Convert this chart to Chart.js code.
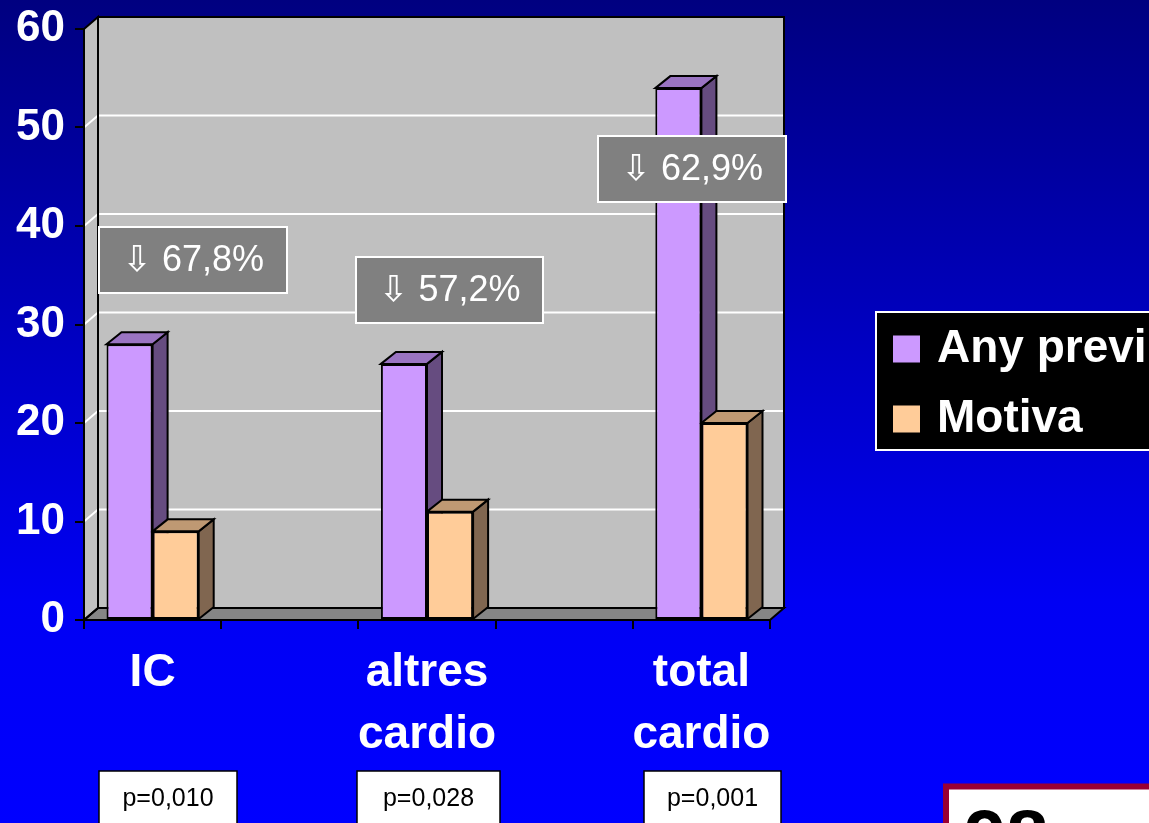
<!DOCTYPE html>
<html>
<head>
<meta charset="utf-8">
<script src="https://cdn.jsdelivr.net/npm/chart.js@4.4.1/dist/chart.umd.min.js"></script>
<style>
  html, body { margin: 0; padding: 0; overflow: hidden; background: #0000ff; }
  canvas { display: block; }
</style>
</head>
<body>
<canvas id="chart" width="1149" height="823"></canvas>
<script>
// data
const categories = ["IC", "", ["altres", "cardio"], "", ["total", "cardio"]];
const seriesNames = ["Any previ", "Motiva"];
const anyPrevious = [28, null, 26, null, 54];
const motiva = [9, null, 11, null, 20];
const yTicks = [0, 10, 20, 30, 40, 50, 60];
const reductions = ["\u21E9 67,8%", "\u21E9 57,2%", "\u21E9 62,9%"];
const pValues = ["p=0,010", "p=0,028", "p=0,001"];

// layout / look
const FONT = "Arial, 'Liberation Sans', 'DejaVu Sans', sans-serif";
const WALL = { dx: 14, dy: -12 };
const BAR = { dx: 15, dy: -12 };
const faces = [
  { front: "#cc99ff", top: "#9a74c2", side: "#664c80" },
  { front: "#ffcc99", top: "#bf9973", side: "#806650" },
];
const reductionBoxes = [
  { x: 99, y: 227, w: 188, h: 66 },
  { x: 356, y: 257, w: 187, h: 66 },
  { x: 598, y: 136, w: 188, h: 66 },
];
const pBoxes = [
  { x: 99, y: 771, w: 138 },
  { x: 357, y: 771, w: 143 },
  { x: 644, y: 771, w: 137 },
];

function poly(ctx, pts, fill, stroke, lw) {
  ctx.beginPath();
  ctx.moveTo(pts[0][0], pts[0][1]);
  for (let i = 1; i < pts.length; i++) ctx.lineTo(pts[i][0], pts[i][1]);
  ctx.closePath();
  if (fill) { ctx.fillStyle = fill; ctx.fill(); }
  if (stroke) { ctx.strokeStyle = stroke; ctx.lineWidth = lw || 2; ctx.lineJoin = "miter"; ctx.stroke(); }
}

const scene3d = {
  id: "scene3d",
  beforeDraw(chart) {
    const { ctx, width, height } = chart;
    const a = chart.chartArea;
    const y = chart.scales.y;
    const { dx, dy } = WALL;

    ctx.save();
    const g = ctx.createLinearGradient(0, 0, 0, height);
    g.addColorStop(0, "#000080");
    g.addColorStop(0.73, "#0000f4");
    g.addColorStop(1, "#0000ff");
    ctx.fillStyle = g;
    ctx.fillRect(0, 0, width, height);

    const back = [[a.left + dx, a.top + dy], [a.right + dx, a.top + dy], [a.right + dx, a.bottom + dy], [a.left + dx, a.bottom + dy]];
    const side = [[a.left, a.top], [a.left + dx, a.top + dy], [a.left + dx, a.bottom + dy], [a.left, a.bottom]];
    const floor = [[a.left, a.bottom], [a.left + dx, a.bottom + dy], [a.right + dx, a.bottom + dy], [a.right, a.bottom]];
    poly(ctx, back, "#c0c0c0");
    poly(ctx, side, "#c0c0c0");
    poly(ctx, floor, "#858585");

    // gridlines on walls
    ctx.strokeStyle = "#ffffff";
    ctx.lineWidth = 2;
    y.ticks.forEach(t => {
      if (t.value <= y.min || t.value >= y.max) return;
      const py = y.getPixelForValue(t.value);
      ctx.beginPath();
      ctx.moveTo(a.left, py);
      ctx.lineTo(a.left + dx, py + dy);
      ctx.lineTo(a.right + dx, py + dy);
      ctx.stroke();
    });

    poly(ctx, back, null, "#000", 2);
    poly(ctx, side, null, "#000", 2);
    poly(ctx, floor, null, "#000", 2);
    ctx.restore();
  },
  beforeDatasetsDraw(chart) {
    const { ctx } = chart;
    const { dx, dy } = BAR;
    ctx.save();
    chart.data.datasets.forEach((ds, i) => {
      const meta = chart.getDatasetMeta(i);
      meta.data.forEach((el, j) => {
        if (ds.data[j] == null) return;
        const l = el.x - el.width / 2, r = el.x + el.width / 2;
        poly(ctx, [[r, el.y], [r + dx, el.y + dy], [r + dx, el.base + dy], [r, el.base]], faces[i].side, "#000", 2);
        poly(ctx, [[l, el.y], [l + dx, el.y + dy], [r + dx, el.y + dy], [r, el.y]], faces[i].top, "#000", 2);
      });
    });
    ctx.restore();
  },
  afterDraw(chart) {
    const { ctx } = chart;
    ctx.save();

    // reduction call-outs
    ctx.textAlign = "center";
    ctx.textBaseline = "middle";
    reductionBoxes.forEach((b, i) => {
      ctx.fillStyle = "#808080";
      ctx.fillRect(b.x, b.y, b.w, b.h);
      ctx.strokeStyle = "#ffffff";
      ctx.lineWidth = 2;
      ctx.strokeRect(b.x, b.y, b.w, b.h);
      ctx.fillStyle = "#ffffff";
      ctx.font = `36px ${FONT}`;
      ctx.fillText(reductions[i], b.x + b.w / 2, b.y + b.h / 2 + 1);
    });

    // p values
    ctx.font = `25px ${FONT}`;
    pBoxes.forEach((b, i) => {
      ctx.fillStyle = "#ffffff";
      ctx.fillRect(b.x, b.y, b.w, 70);
      ctx.strokeStyle = "#000";
      ctx.lineWidth = 1.5;
      ctx.strokeRect(b.x, b.y, b.w, 70);
      ctx.fillStyle = "#000";
      ctx.fillText(pValues[i], b.x + b.w / 2, 799);
    });

    // cropped box bottom right
    ctx.fillStyle = "#ffffff";
    ctx.fillRect(946, 786.5, 260, 80);
    ctx.strokeStyle = "#990033";
    ctx.lineWidth = 6;
    ctx.strokeRect(946, 786.5, 260, 80);
    ctx.fillStyle = "#000";
    ctx.font = `bold 76px ${FONT}`;
    ctx.textAlign = "left";
    ctx.textBaseline = "alphabetic";
    ctx.fillText("98", 964, 863);

    // legend
    ctx.fillStyle = "#000";
    ctx.fillRect(875, 311, 300, 140);
    ctx.strokeStyle = "#ffffff";
    ctx.lineWidth = 2;
    ctx.strokeRect(876, 312, 300, 138);
    ctx.font = `bold 46px ${FONT}`;
    ctx.textBaseline = "middle";
    chart.data.datasets.forEach((ds, i) => {
      const cy = 349 + i * 70;
      ctx.fillStyle = ds.backgroundColor;
      ctx.fillRect(893, cy - 13.5, 27, 27);
      ctx.fillStyle = "#ffffff";
      ctx.fillText(ds.label, 937, cy);
    });
    ctx.restore();
  },
};

new Chart(document.getElementById("chart"), {
  type: "bar",
  data: {
    labels: categories,
    datasets: [
      { label: seriesNames[0], data: anyPrevious, backgroundColor: faces[0].front },
      { label: seriesNames[1], data: motiva, backgroundColor: faces[1].front },
    ],
  },
  options: {
    responsive: false,
    animation: false,
    events: [],
    layout: { padding: { left: 0, top: 29, right: 379, bottom: 0 } },
    datasets: {
      bar: {
        borderColor: "#000",
        borderWidth: 2,
        borderSkipped: false,
        categoryPercentage: 0.672,
        barPercentage: 1,
      },
    },
    plugins: {
      legend: { display: false },
      tooltip: { enabled: false },
    },
    scales: {
      x: {
        offset: true,
        grid: { display: true, offset: true, drawOnChartArea: false, drawTicks: true, tickLength: 9, color: "#000", lineWidth: 2 },
        border: { display: true, color: "#000", width: 2 },
        ticks: {
          color: "#ffffff",
          font: { family: FONT, size: 46, weight: "bold", lineHeight: 1.35 },
          padding: 13,
          maxRotation: 0,
          autoSkip: false,
        },
        afterFit(scale) {
          scale.height = 203;
          scale.paddingLeft = 0;
          scale.paddingRight = 0;
        },
      },
      y: {
        min: yTicks[0],
        max: yTicks[yTicks.length - 1],
        afterBuildTicks(scale) { scale.ticks = yTicks.map(v => ({ value: v })); },
        grid: { display: true, drawOnChartArea: false, drawTicks: true, tickLength: 9, color: "#000", lineWidth: 2 },
        border: { display: true, color: "#000", width: 2 },
        ticks: {
          color: "#ffffff",
          font: { family: FONT, size: 44, weight: "bold" },
          padding: 10,
        },
        afterFit(scale) {
          scale.width = 84;
          scale.paddingTop = 0;
          scale.paddingBottom = 0;
        },
      },
    },
  },
  plugins: [scene3d],
});
</script>
</body>
</html>
